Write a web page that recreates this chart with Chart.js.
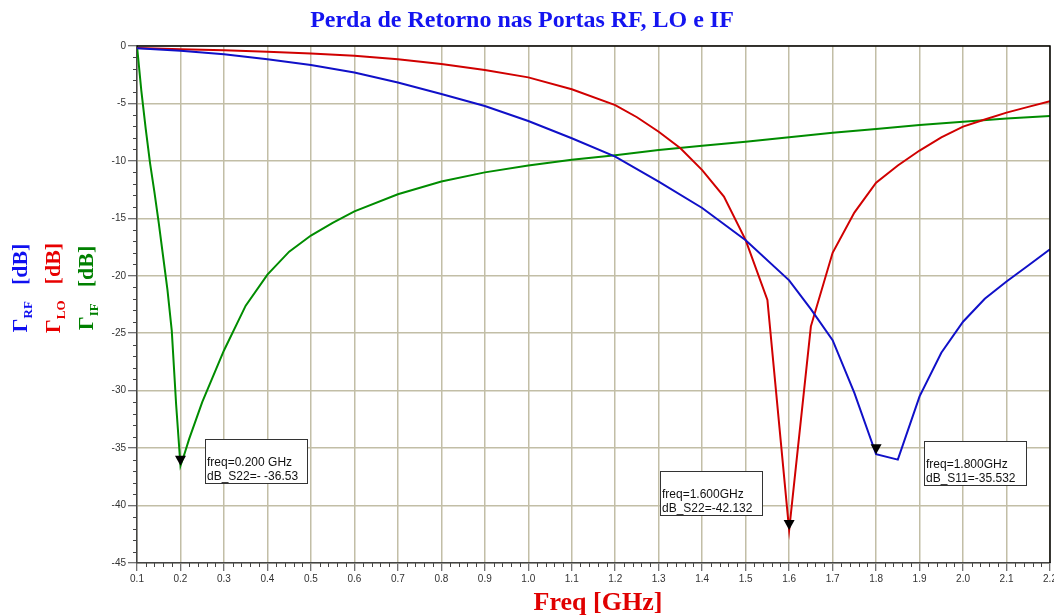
<!DOCTYPE html>
<html>
<head>
<meta charset="utf-8">
<script src="https://cdn.jsdelivr.net/npm/chart.js@4.4.0/dist/chart.umd.min.js"></script>
<style>
  html, body { margin: 0; padding: 0; background: #fff; }
  canvas { display: block; }
</style>
</head>
<body>
<canvas id="chart" width="1054" height="616"></canvas>
<script>
// RF port (S11)
const rfFreq = [0.1, 0.2, 0.3, 0.4, 0.5, 0.6, 0.7, 0.8, 0.9, 1.0, 1.1, 1.2, 1.3, 1.4, 1.5, 1.6, 1.65, 1.7, 1.75, 1.8, 1.85, 1.9, 1.95, 2.0, 2.05, 2.1, 2.15, 2.2];
const rfDb = [-0.2, -0.42, -0.72, -1.15, -1.65, -2.3, -3.18, -4.18, -5.22, -6.53, -8.03, -9.63, -11.8, -14.1, -16.9, -20.4, -22.9, -25.6, -30.2, -35.532, -36.0, -30.5, -26.7, -24.0, -22.0, -20.5, -19.1, -17.7];

// LO port (S22)
const loFreq = [0.1, 0.2, 0.3, 0.4, 0.5, 0.6, 0.7, 0.8, 0.9, 1.0, 1.1, 1.2, 1.25, 1.3, 1.35, 1.4, 1.45, 1.5, 1.55, 1.6, 1.65, 1.7, 1.75, 1.8, 1.85, 1.9, 1.95, 2.0, 2.05, 2.1, 2.15, 2.2];
const loDb = [-0.18, -0.28, -0.36, -0.5, -0.65, -0.84, -1.16, -1.57, -2.09, -2.73, -3.77, -5.14, -6.2, -7.46, -8.9, -10.8, -13.1, -16.9, -22.1, -42.132, -24.4, -18.0, -14.5, -11.9, -10.4, -9.1, -7.95, -7.02, -6.4, -5.8, -5.3, -4.8];

// IF port (S22)
const ifFreq = [0.1, 0.11, 0.12, 0.13, 0.14, 0.15, 0.16, 0.17, 0.18, 0.19, 0.2, 0.21, 0.22, 0.25, 0.3, 0.35, 0.4, 0.45, 0.5, 0.55, 0.6, 0.7, 0.8, 0.9, 1.0, 1.1, 1.2, 1.3, 1.4, 1.5, 1.6, 1.7, 1.8, 1.9, 2.0, 2.1, 2.2];
const ifDb = [0, -3.9, -7.2, -10.2, -12.7, -15.4, -18.3, -21.2, -24.8, -31.2, -36.53, -35.4, -34.2, -31.0, -26.5, -22.6, -19.9, -17.9, -16.5, -15.4, -14.4, -12.9, -11.8, -11.0, -10.4, -9.9, -9.5, -9.05, -8.68, -8.33, -7.95, -7.55, -7.23, -6.88, -6.59, -6.3, -6.1];

// markers
const markerFreq = [0.2, 1.6, 1.8];
const markerDb = [-36.53, -42.132, -35.532];
const markerLine1 = ['freq=0.200 GHz', 'freq=1.600GHz', 'freq=1.800GHz'];
const markerLine2 = ['dB_S22=- ' + markerDb[0], 'dB_S22=' + markerDb[1], 'dB_S11=' + markerDb[2]];

// where each marker's readout box sits (canvas pixels)
const readoutBoxes = [
  { left: 205, top: 439 },
  { left: 660, top: 471 },
  { left: 924, top: 441 }
];

const toPoints = (xs, ys) => xs.map((f, i) => ({ x: f, y: ys[i] }));

const serif = '"Liberation Serif", "Times New Roman", serif';
const sans = '"Liberation Sans", Arial, sans-serif';

function drawGammaLabel(ctx, x, cy, sub, color) {
  const big = 'bold 22px ' + serif;
  const small = 'bold 13px ' + serif;
  ctx.save();
  ctx.translate(x, cy);
  ctx.rotate(-Math.PI / 2);
  ctx.fillStyle = color;
  ctx.textBaseline = 'alphabetic';
  ctx.textAlign = 'left';
  ctx.font = big;
  const wG = ctx.measureText('\u0393').width;
  const wD = ctx.measureText('[dB]').width;
  ctx.font = small;
  const wS = ctx.measureText(sub).width;
  const gap = 16;
  const total = wG + wS + gap + wD;
  let pos = -total / 2;
  ctx.font = big;
  ctx.fillText('\u0393', pos, 0);
  pos += wG;
  ctx.font = small;
  ctx.fillText(sub, pos, 5);
  pos += wS + gap;
  ctx.font = big;
  ctx.fillText('[dB]', pos, 0);
  ctx.restore();
}

const decor = {
  id: 'decor',
  beforeDraw(chart) {
    const ctx = chart.ctx;
    ctx.save();
    ctx.fillStyle = '#fff';
    ctx.fillRect(0, 0, chart.width, chart.height);
    ctx.restore();
  },
  afterDraw(chart) {
    const ctx = chart.ctx;
    const { x, y } = chart.scales;
    const area = chart.chartArea;
    ctx.save();

    // top and right frame
    ctx.strokeStyle = '#000';
    ctx.lineWidth = 1.5;
    ctx.beginPath();
    ctx.moveTo(area.left, area.top);
    ctx.lineTo(area.right, area.top);
    ctx.lineTo(area.right, area.bottom);
    ctx.stroke();

    // minor ticks
    ctx.strokeStyle = '#444';
    ctx.lineWidth = 1;
    ctx.beginPath();
    for (let v = -44; v < 0; v++) {
      if (v % 5 === 0) continue;
      const py = Math.round(y.getPixelForValue(v)) + 0.5;
      ctx.moveTo(area.left - 4, py);
      ctx.lineTo(area.left, py);
    }
    for (let i = 6; i < 110; i++) {
      if (i % 5 === 0) continue;
      const px = Math.round(x.getPixelForValue(i / 50)) + 0.5;
      ctx.moveTo(px, area.bottom);
      ctx.lineTo(px, area.bottom + 4);
    }
    ctx.stroke();

    // markers and readouts
    markerFreq.forEach((f, i) => {
      const px = x.getPixelForValue(f);
      const py = y.getPixelForValue(markerDb[i]);
      ctx.fillStyle = '#000';
      ctx.beginPath();
      ctx.moveTo(px, py);
      ctx.lineTo(px - 5.5, py - 10);
      ctx.lineTo(px + 5.5, py - 10);
      ctx.closePath();
      ctx.fill();

      const b = readoutBoxes[i];
      ctx.fillStyle = '#fff';
      ctx.fillRect(b.left, b.top, 102, 44);
      ctx.strokeStyle = '#333';
      ctx.lineWidth = 1;
      ctx.strokeRect(b.left + 0.5, b.top + 0.5, 102, 44);
      ctx.fillStyle = '#111';
      ctx.font = '12px ' + sans;
      ctx.textAlign = 'left';
      ctx.textBaseline = 'alphabetic';
      ctx.fillText(markerLine1[i], b.left + 2, b.top + 27);
      ctx.fillText(markerLine2[i], b.left + 2, b.top + 41);
    });

    // title
    ctx.textAlign = 'center';
    ctx.textBaseline = 'alphabetic';
    ctx.fillStyle = '#1414f0';
    ctx.font = 'bold 24px ' + serif;
    ctx.fillText('Perda de Retorno nas Portas RF, LO e IF', 522, 27);

    // x axis title
    ctx.fillStyle = '#e00000';
    ctx.font = 'bold 26px ' + serif;
    ctx.fillText('Freq [GHz]', 598, 610);

    // y axis titles
    drawGammaLabel(ctx, 27, 288, 'RF', '#1010f0');
    drawGammaLabel(ctx, 60, 288, 'LO', '#e80000');
    drawGammaLabel(ctx, 93, 288, 'IF', '#008000');

    ctx.restore();
  }
};

new Chart(document.getElementById('chart'), {
  type: 'line',
  data: {
    datasets: [
      { label: 'RF', data: toPoints(rfFreq, rfDb), borderColor: '#1010c8' },
      { label: 'LO', data: toPoints(loFreq, loDb), borderColor: '#d00000' },
      { label: 'IF', data: toPoints(ifFreq, ifDb), borderColor: '#008c00' }
    ]
  },
  options: {
    responsive: false,
    animation: false,
    layout: { padding: { top: 46, right: 4, left: 0, bottom: 0 } },
    elements: {
      line: { borderWidth: 2, tension: 0, fill: false },
      point: { radius: 0, hoverRadius: 0 }
    },
    plugins: {
      legend: { display: false },
      title: { display: false },
      tooltip: { enabled: false }
    },
    scales: {
      x: {
        type: 'linear',
        min: 0.1,
        max: 2.2,
        ticks: {
          stepSize: 0.1,
          padding: 2,
          maxRotation: 0,
          autoSkip: false,
          color: '#333',
          font: { family: sans, size: 10 },
          callback: v => v.toFixed(1)
        },
        grid: { color: '#c2bea6', lineWidth: 1.5, tickLength: 8, tickColor: '#444', tickWidth: 1 },
        border: { display: true, color: '#444', width: 1.5 },
        afterFit(scale) {
          scale.height = 53;
          scale.paddingLeft = 0;
          scale.paddingRight = 0;
        }
      },
      y: {
        min: -45,
        max: 0,
        ticks: {
          stepSize: 5,
          padding: 2,
          color: '#333',
          font: { family: sans, size: 10 },
          callback: v => String(v)
        },
        grid: { color: '#c2bea6', lineWidth: 1.5, tickLength: 9, tickColor: '#444', tickWidth: 1 },
        border: { display: true, color: '#444', width: 1.5 },
        afterFit(scale) {
          scale.width = 137;
          scale.paddingTop = 0;
          scale.paddingBottom = 0;
        }
      }
    }
  },
  plugins: [decor]
});
</script>
</body>
</html>
